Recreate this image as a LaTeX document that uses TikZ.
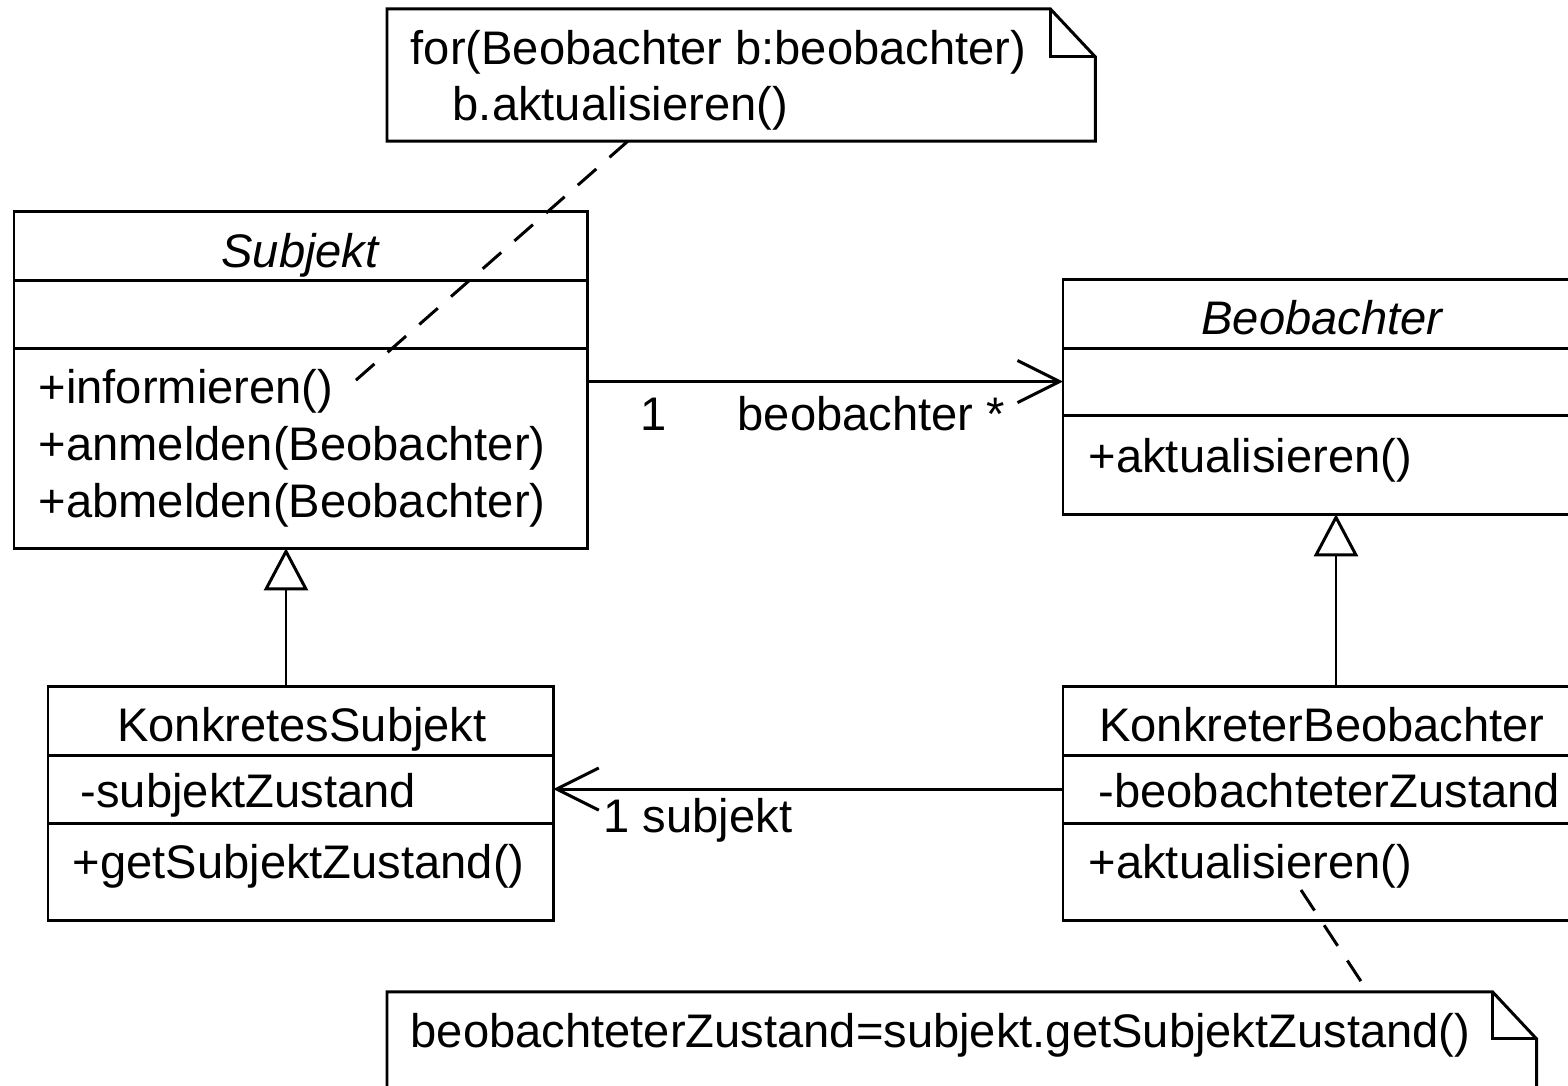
\documentclass[tikz,border=0pt]{standalone}
\usepackage{fontspec}
\setmainfont{Liberation Sans}
\usetikzlibrary{positioning,arrows.meta,calc}

\tikzset{
  umlline/.style={line width=0.85pt},
  compart/.style={draw, umlline, inner sep=0pt, outer sep=0pt, anchor=north west},
  member/.style={anchor=base west, inner sep=0pt},
  title/.style={anchor=base, inner sep=0pt},
  notebox/.style={inner sep=0pt, outer sep=0pt, anchor=north west},
  assoc/.style={umlline, -{Straight Barb[length=12pt,width=12pt]}},
  inherit/.style={umlline, -{Triangle[open,length=12pt,width=12.5pt,fill=white]}},
  noteline/.style={umlline, dash pattern=on 7pt off 5pt},
}

\begin{document}
\begin{tikzpicture}[x=0.01cm, y=-0.01cm, font=\fontsize{13.4pt}{16pt}\selectfont]
  \useasboundingbox (0,0) rectangle (1568,1086);
  \fill[white] (0,0) rectangle (1568,1086);
  \clip (0,0) rectangle (1568,1086);

  % Subjekt
  \node[compart, minimum width=5.73cm, minimum height=0.68cm] (subj-name) at (14,212) {};
  \node[compart, minimum width=5.73cm, minimum height=0.68cm, below=0pt of subj-name] (subj-attr) {};
  \node[compart, minimum width=5.73cm, minimum height=2cm, below=0pt of subj-attr] (subj-ops) {};
  \node[title] at (300,268) {\itshape Subjekt};
  \foreach \t [count=\i] in {+informieren(), +anmelden(Beobachter), +abmelden(Beobachter)}
    \node[member] (subj-op\i) at (38,347+57*\i) {\t};

  % Beobachter
  \node[compart, minimum width=5.22cm, minimum height=0.68cm] (beob-name) at (1063,280) {};
  \node[compart, minimum width=5.22cm, minimum height=0.67cm, below=0pt of beob-name] (beob-attr) {};
  \node[compart, minimum width=5.22cm, minimum height=0.99cm, below=0pt of beob-attr] (beob-ops) {};
  \node[title] at (1322,335) {\itshape Beobachter};
  \node[member] (beob-op1) at (1088,473) {+aktualisieren()};

  % KonkretesSubjekt
  \node[compart, minimum width=5.05cm, minimum height=0.68cm] (ks-name) at (48,687) {};
  \node[compart, minimum width=5.05cm, minimum height=0.68cm, below=0pt of ks-name] (ks-attr) {};
  \node[compart, minimum width=5.05cm, minimum height=0.97cm, below=0pt of ks-attr] (ks-ops) {};
  \node[title] at (302,742) {KonkretesSubjekt};
  \node[member] (ks-attr1) at (80,808) {-subjektZustand};
  \node[member] (ks-op1) at (72,879) {+getSubjektZustand()};

  % KonkreterBeobachter
  \node[compart, minimum width=5.22cm, minimum height=0.68cm] (kb-name) at (1063,687) {};
  \node[compart, minimum width=5.22cm, minimum height=0.68cm, below=0pt of kb-name] (kb-attr) {};
  \node[compart, minimum width=5.22cm, minimum height=0.97cm, below=0pt of kb-attr] (kb-ops) {};
  \node[title] at (1322,742) {KonkreterBeobachter};
  \node[member] (kb-attr1) at (1098,808) {-beobachteterZustand};
  \node[member] (kb-op1) at (1088,879) {+aktualisieren()};

  % associations
  \draw[assoc] (subj-ops.east |- beob-attr.west) -- (beob-attr.west);
  \node[member] (mult-subj) at (640,431) {1};
  \node[member] (role-beob) at (737,431) {beobachter *};
  \draw[assoc] (kb-attr.west) -- (ks-attr.east);
  \node[member] (role-subj) at (603,833) {1 subjekt};

  % generalisation
  \draw[inherit] (ks-name.north -| 286,0) -- (subj-ops.south -| 286,0);
  \draw[inherit] (kb-name.north -| 1336,0) -- (beob-ops.south -| 1336,0);

  % notes
  \node[notebox, minimum width=7.08cm, minimum height=1.32cm] (note-info) at (387,9) {};
  \draw[umlline] (note-info.south west) -- (note-info.north west)
    -- ($(note-info.north east)+(-45,0)$) -- ($(note-info.north east)+(0,48)$)
    -- (note-info.south east) -- cycle;
  \draw[umlline] ($(note-info.north east)+(-45,0)$) |- ($(note-info.north east)+(0,48)$);
  \node[member] at (410,65) {for(Beobachter b:beobachter)};
  \node[member] at (452,121) {b.aktualisieren()};

  \node[notebox, minimum width=11.49cm, minimum height=1.6cm] (note-state) at (387,992) {};
  \draw[umlline] (note-state.south west) -- (note-state.north west)
    -- ($(note-state.north east)+(-44,0)$) -- ($(note-state.north east)+(0,47)$)
    -- (note-state.south east) -- cycle;
  \draw[umlline] ($(note-state.north east)+(-44,0)$) |- ($(note-state.north east)+(0,47)$);
  \node[member] at (410,1048) {beobachteterZustand=subjekt.getSubjektZustand()};

  % note links
  \coordinate (op-inform) at (355,381);
  \draw[noteline] (note-info.south -| 628,0) -- (op-inform);
  \coordinate (op-akt) at (1301,890);
  \draw[noteline] (op-akt) -- (note-state.north -| 1368,0);
\end{tikzpicture}
\end{document}
